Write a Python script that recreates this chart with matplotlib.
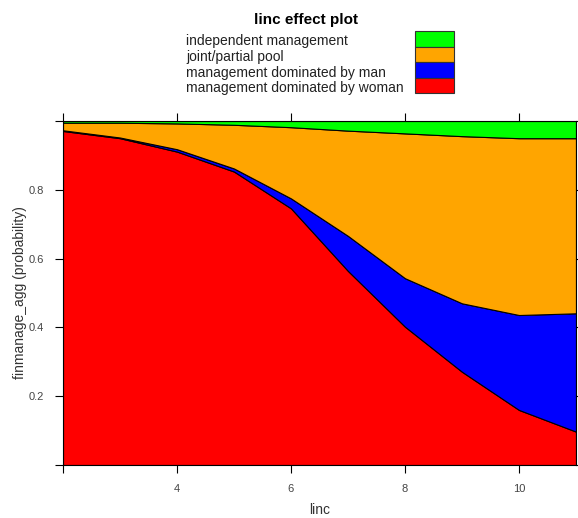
import numpy as np
import matplotlib.pyplot as plt
from matplotlib.patches import Rectangle

plt.rcParams['font.family'] = ['Liberation Sans', 'DejaVu Sans']

# linc values and predicted probabilities
linc = [2, 3, 4, 5, 6, 7, 8, 9, 10, 11]
p_woman = [0.971, 0.950, 0.911, 0.853, 0.746, 0.564, 0.402, 0.271, 0.160, 0.097]
p_man = [0.002, 0.002, 0.007, 0.009, 0.029, 0.102, 0.141, 0.199, 0.276, 0.344]
p_joint = [0.022, 0.043, 0.075, 0.127, 0.207, 0.306, 0.421, 0.486, 0.514, 0.509]
p_indep = [0.005, 0.005, 0.007, 0.011, 0.018, 0.028, 0.036, 0.044, 0.050, 0.050]

labels = ["management dominated by woman", "management dominated by man",
          "joint/partial pool", "independent management"]
colors = ["#ff0000", "#0000ff", "#ffa500", "#00ff00"]

fig = plt.figure(figsize=(5.78, 5.18), dpi=100)
ax = fig.add_axes([63/578, 1 - 465/518, 513/578, 344/518])

ax.stackplot(linc, p_woman, p_man, p_joint, p_indep, colors=colors,
             edgecolor="black", linewidth=0.8)

ax.set_xlim(2, 11)
ax.set_ylim(0, 1)
ax.set_xticks([2, 4, 6, 8, 10])
ax.set_xticklabels(["", "4", "6", "8", "10"])
ax.set_yticks([0, 0.2, 0.4, 0.6, 0.8, 1.0])
ax.set_yticklabels(["", "0.2", "0.4", "0.6", "0.8", ""])
ax.tick_params(direction="out", length=6, width=0.8, top=True, right=True,
               labelsize=8, labelcolor="#444444", pad=8)
for s in ax.spines.values():
    s.set_linewidth(0.8)
ax.set_xlabel("linc", fontsize=10, color="#333333", labelpad=6)
ax.set_ylabel("finmanage_agg (probability)", fontsize=10, color="#333333", labelpad=1)

# title and key on top, lattice style
fig.text(306/578, 1 - 20/518, "linc effect plot", ha="center", va="center",
         fontsize=11, fontweight="bold")
rows = [41, 57, 72.5, 88]
key_labels = labels[::-1]
key_colors = colors[::-1]
for i in range(4):
    fig.text(186/578, 1 - rows[i]/518, key_labels[i], ha="left", va="center",
             fontsize=10, color="#222222")
    fig.patches.append(Rectangle((415/578, 1 - (31 + 15.6*(i+1))/518), 39/578, 15.6/518,
                                 transform=fig.transFigure, facecolor=key_colors[i],
                                 edgecolor="#333333", linewidth=0.8))

fig.savefig("out.png", dpi=100)
